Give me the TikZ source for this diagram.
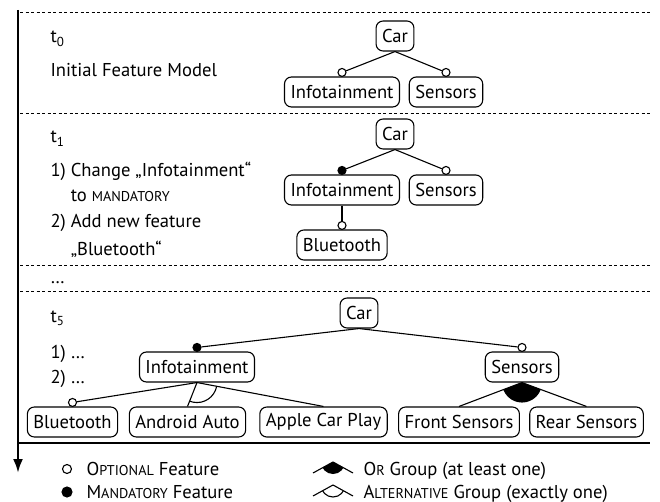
\documentclass[tikz,border=0pt]{standalone}
\usepackage{fontspec}
\setmainfont{PT Sans}
\usepackage{tikz}
\usetikzlibrary{arrows.meta,calc}

\newcommand{\smcap}[1]{{\fontsize{14.2}{14}\selectfont\uppercase{#1}}}

\begin{document}
\begin{tikzpicture}[x=1pt,y=1pt,font=\fontsize{18.6}{20}\selectfont,
	feature/.style={draw,line width=1.1pt,rounded corners=7pt,minimum height=30pt,inner xsep=6pt},
	opt/.style={draw,line width=1.1pt,circle,fill=white,inner sep=0pt,minimum size=8pt},
	mand/.style={opt,fill=black},
	divider/.style={line width=0.9pt,dash pattern=on 3pt off 2.5pt},
	edge/.style={line width=1.1pt}]

	\useasboundingbox (0,0) rectangle (660,-502);

	\draw[line width=2.5pt,-{Latex[length=14pt,width=10pt]}] (18,-10) -- (18,-473); %time axis
	\draw[divider] (20,-12) -- (650,-12);
	\draw[divider] (20,-113) -- (650,-113);
	\draw[divider] (20,-265) -- (650,-265);
	\draw[divider] (20,-291) -- (650,-291);
	\draw[line width=1.3pt] (18,-443) -- (650,-443);

	%t0
	\node[anchor=base west] (t0) at (47,-43) {t\textsubscript{0}};
	\node[anchor=base west] (t0text) at (47,-77) {Initial Feature Model};
	\node[feature] (car0) at (395,-36) {Car};
	\node[feature] (info0) at (342,-92) {Infotainment};
	\node[feature] (sens0) at (446,-92) {Sensors};
	\node[opt] (info0c) at ($(info0.north)+(0,4)$) {};
	\node[opt] (sens0c) at ($(sens0.north)+(0,4)$) {};
	\draw[edge] (car0.south) -- (info0c);
	\draw[edge] (car0.south) -- (sens0c);

	%t1
	\node[anchor=base west] (t1) at (47,-143) {t\textsubscript{1}};
	\node[anchor=base west] (t1a) at (47,-177) {1) Change „Infotainment“};
	\node[anchor=base west] (t1b) at (47,-202) {\phantom{1) }to \smcap{mandatory}};
	\node[anchor=base west] (t1c) at (47,-228) {2) Add new feature};
	\node[anchor=base west] (t1d) at (47,-255) {\phantom{1) }„Bluetooth“};
	\node[feature] (car1) at (395,-134) {Car};
	\node[feature] (info1) at (342,-190) {Infotainment};
	\node[feature] (sens1) at (446,-190) {Sensors};
	\node[feature] (blue1) at (342,-245) {Bluetooth};
	\node[mand] (info1c) at ($(info1.north)+(0,4)$) {};
	\node[opt] (sens1c) at ($(sens1.north)+(0,4)$) {};
	\node[opt] (blue1c) at ($(blue1.north)+(0,4)$) {};
	\draw[edge] (car1.south) -- (info1c);
	\draw[edge] (car1.south) -- (sens1c);
	\draw[edge] (info1.south) -- (blue1c);

	\node[anchor=base west] (dots) at (47,-283) {\dots};

	%t5
	\node[anchor=base west] (t5) at (47,-322) {t\textsubscript{5}};
	\node[anchor=base west] (t5a) at (47,-358) {1) \dots};
	\node[anchor=base west] (t5b) at (47,-383) {2) \dots};
	\node[feature] (car5) at (359,-313) {Car};
	\node[feature] (info5) at (197,-367) {Infotainment};
	\node[feature] (sens5) at (522,-367) {Sensors};
	\node[feature] (blue5) at (72.5,-422) {Bluetooth};
	\node[feature] (aa5) at (187.5,-422) {Android Auto};
	\node[feature] (acp5) at (323.5,-422) {Apple Car Play};
	\node[feature] (fs5) at (459,-422) {Front Sensors};
	\node[feature] (rs5) at (586.5,-422) {Rear Sensors};
	\node[mand] (info5c) at ($(info5.north)+(0,4)$) {};
	\node[opt] (sens5c) at ($(sens5.north)+(0,4)$) {};
	\node[opt] (blue5c) at ($(blue5.north)+(0,4)$) {};
	\draw[edge] (car5.south) -- (info5c);
	\draw[edge] (car5.south) -- (sens5c);
	\draw[edge] (info5.south) -- (blue5c);
	\draw[edge] (info5.south) -- (aa5.north);
	\draw[edge] (info5.south) -- (acp5.north);
	\begin{scope} %alternative group
		\clip (info5.south) -- (aa5.north) -- (acp5.north) -- cycle;
		\draw[edge] (info5.south) circle[radius=20];
	\end{scope}
	\draw[edge] (sens5.south) -- (fs5.north);
	\draw[edge] (sens5.south) -- (rs5.north);
	\begin{scope} %or group
		\clip (sens5.south) -- (fs5.north) -- (rs5.north) -- cycle;
		\fill (sens5.south) circle[radius=20];
	\end{scope}

	%legend
	\node[opt,minimum size=9pt] (optsym) at (67,-469) {};
	\node[anchor=base west] (opttext) at (83,-475) {O\smcap{ptional} Feature};
	\node[mand,minimum size=10pt] (mandsym) at (67,-492) {};
	\node[anchor=base west] (mandtext) at (83,-498) {M\smcap{andatory} Feature};

	\coordinate (ortop) at (333,-462);
	\coordinate (orleft) at (313,-473);
	\coordinate (orright) at (353,-473);
	\draw[edge] (orleft) -- (ortop) -- (orright);
	\begin{scope}
		\clip (ortop) -- ($(ortop)!2!(orleft)$) -- ($(ortop)!2!(orright)$) -- cycle;
		\fill (ortop) circle[radius=12];
	\end{scope}
	\node[anchor=base west] (ortext) at (360,-475) {O\smcap{r} Group (at least one)};

	\coordinate (alttop) at (333,-485);
	\coordinate (altleft) at (313,-496);
	\coordinate (altright) at (353,-496);
	\draw[edge] (altleft) -- (alttop) -- (altright);
	\begin{scope}
		\clip (alttop) -- ($(alttop)!2!(altleft)$) -- ($(alttop)!2!(altright)$) -- cycle;
		\draw[edge] (alttop) circle[radius=12];
	\end{scope}
	\node[anchor=base west] (alttext) at (360,-498) {A\smcap{lternative} Group (exactly one)};

\end{tikzpicture}
\end{document}
